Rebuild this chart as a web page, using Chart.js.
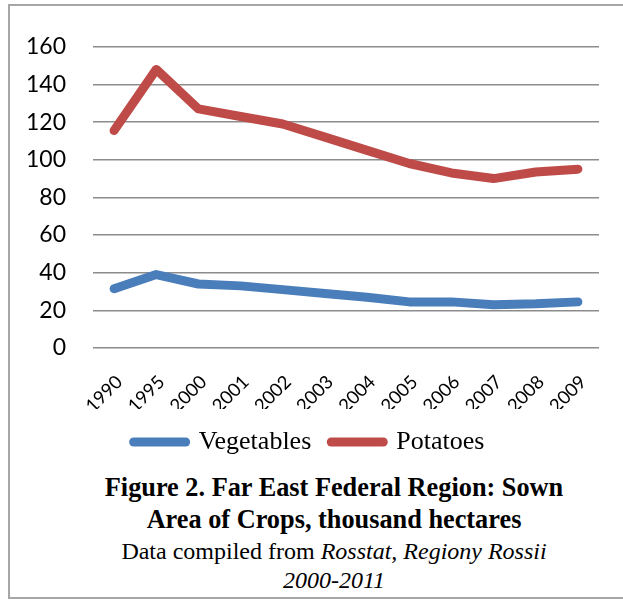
<!DOCTYPE html>
<html>
<head>
<meta charset="utf-8">
<script src="https://cdn.jsdelivr.net/npm/chart.js@4.4.1/dist/chart.umd.min.js"></script>
<style>
  html, body { margin: 0; padding: 0; background: #fff; width: 623px; height: 602px; overflow: hidden; }
  #frame { position: absolute; left: 8px; top: 4px; width: 660px; height: 595px; border: 2px solid #a6a6a6; box-sizing: border-box; }
  #wrap { position: absolute; left: -1px; top: 6px; }
  #caption { position: absolute; left: 0; top: 472px; width: 668px; text-align: center; font-family: "Liberation Serif", "Times New Roman", serif; color: #000; }
  #caption .b { font-weight: bold; font-size: 26.3px; line-height: 32px; }
  #caption .n1 { font-size: 24px; line-height: 30px; }
  #caption .n2 { font-size: 24px; line-height: 28px; font-style: italic; }
</style>
</head>
<body>
<div id="frame"></div>
<div id="wrap"><canvas id="c" width="620" height="459"></canvas></div>
<div id="caption">
  <div class="b">Figure 2. Far East Federal Region: Sown</div>
  <div class="b">Area of Crops, thousand hectares</div>
  <div class="n1">Data compiled from <i>Rosstat, Regiony Rossii</i></div>
  <div class="n2">2000-2011</div>
</div>
<script>
const years = ["1990","1995","2000","2001","2002","2003","2004","2005","2006","2007","2008","2009"];
const vegetables = [31.5, 39, 34, 33, 31, 29, 27, 24.5, 24.5, 23, 23.5, 24.5];
const potatoes = [115.5, 148, 127, 123, 119, 112, 105, 98, 93, 90, 93.5, 95];
const seriesNames = ["Vegetables", "Potatoes"];
const yTicks = [0, 20, 40, 60, 80, 100, 120, 140, 160];

const blue = "#4A7EBB";
const red = "#BE4B48";

new Chart(document.getElementById("c"), {
  type: "line",
  data: {
    labels: years,
    datasets: [
      { label: seriesNames[0], data: vegetables, yAxisID: "y", borderColor: blue, backgroundColor: blue, borderWidth: 9, pointRadius: 0, borderCapStyle: "round", borderJoinStyle: "round", tension: 0 },
      { label: seriesNames[1], data: potatoes, yAxisID: "y", borderColor: red, backgroundColor: red, borderWidth: 9, pointRadius: 0, borderCapStyle: "round", borderJoinStyle: "round", tension: 0 }
    ]
  },
  options: {
    responsive: false,
    animation: false,
    layout: { padding: { left: 0, right: 0, top: 31, bottom: 0 } },
    plugins: {
      tooltip: { enabled: false },
      legend: {
        position: "bottom",
        labels: {
          usePointStyle: true,
          pointStyleWidth: 52,
          padding: 20,
          color: "#000",
          font: { family: "'Liberation Serif', 'Times New Roman', serif", size: 26 },
          generateLabels: (chart) => chart.data.datasets.map((ds, i) => ({
            text: ds.label,
            fillStyle: ds.borderColor,
            strokeStyle: ds.borderColor,
            lineWidth: 9,
            lineCap: "round",
            pointStyle: "line",
            datasetIndex: i,
            hidden: false,
            fontColor: "#000"
          }))
        }
      }
    },
    scales: {
      x: {
        offset: true,
        grid: { display: false, drawTicks: false },
        border: { display: false },
        ticks: { autoSkip: false, minRotation: 45, maxRotation: 45, padding: 23, labelOffset: 5.3, color: "#000", font: { family: "Lato, 'Open Sans', sans-serif", size: 18.5 } },
        afterFit: (s) => { s.height = 61; }
      },
      y: {
        min: 0, max: 160,
        afterBuildTicks: (axis) => { axis.ticks = yTicks.map(v => ({ value: v })); },
        grid: { color: "#8c8c8c", lineWidth: 1.5, drawTicks: false },
        border: { display: false },
        ticks: { padding: 27, color: "#000", font: { family: "Lato, 'Open Sans', sans-serif", size: 23 } }
      },
      yRight: {
        position: "right",
        display: true,
        grid: { display: false, drawTicks: false },
        border: { display: false },
        ticks: { display: false },
        afterFit: (s) => { s.width = 20; }
      }
    }
  }
});
</script>
</body>
</html>
